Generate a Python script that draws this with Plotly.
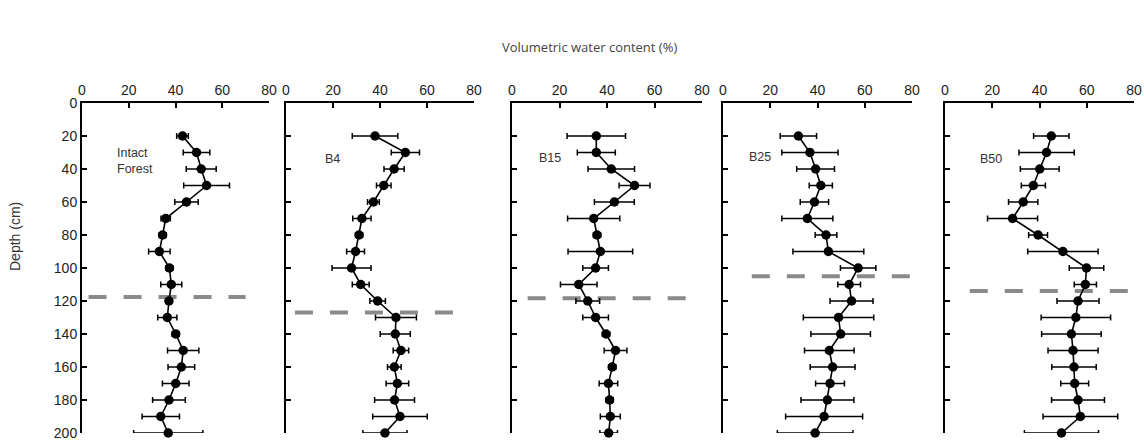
import plotly.graph_objects as go

W, H = 1144, 443

depth = [20, 30, 40, 50, 60, 70, 80, 90, 100, 110, 120, 130, 140, 150, 160, 170, 180, 190, 200]

panel_names = ["Intact<br>Forest", "B4", "B15", "B25", "B50"]

intact_mean = [43.0, 49.0, 51.0, 53.3, 44.7, 35.8, 34.5, 33.1, 37.4, 38.2, 37.2, 36.5, 40.1, 43.3, 42.5, 40.1, 37.2, 33.7, 36.9]
intact_err = [2.5, 5.7, 6.4, 9.8, 5.0, 2.0, 1.5, 4.6, 1.5, 4.5, 1.0, 4.1, 1.5, 6.7, 5.7, 5.7, 7.0, 8.0, 14.8]

b4_mean = [37.9, 50.8, 46.0, 41.6, 37.2, 32.3, 31.1, 29.6, 27.9, 31.8, 39.0, 46.8, 46.5, 48.9, 46.1, 47.4, 46.2, 48.5, 42.1]
b4_err = [9.7, 6.0, 4.3, 3.1, 2.5, 3.9, 1.5, 3.8, 8.3, 3.6, 3.3, 8.7, 6.4, 3.3, 2.9, 4.8, 8.5, 11.6, 9.4]

b15_mean = [35.5, 35.5, 41.8, 51.6, 43.1, 34.4, 35.8, 37.2, 35.2, 28.1, 31.9, 35.2, 39.6, 43.6, 42.2, 40.6, 41.1, 41.4, 40.7]
b15_err = [12.3, 8.0, 9.8, 6.5, 8.4, 11.0, 1.5, 13.6, 5.4, 7.7, 5.0, 5.4, 1.5, 4.8, 1.5, 3.9, 1.5, 4.2, 3.7]

b25_mean = [31.9, 36.8, 39.2, 41.4, 38.7, 35.7, 43.6, 44.6, 57.2, 53.4, 54.4, 48.9, 49.8, 45.0, 46.4, 45.3, 44.2, 42.8, 39.0]
b25_err = [7.7, 11.9, 8.0, 4.9, 6.0, 10.8, 4.6, 15.0, 7.5, 4.8, 9.1, 14.9, 12.6, 10.5, 9.5, 6.1, 11.2, 16.3, 16.0]

b50_mean = [45.0, 43.0, 40.1, 37.4, 33.1, 28.6, 39.4, 49.9, 59.9, 59.4, 56.3, 55.4, 53.5, 54.2, 54.6, 54.9, 56.3, 57.3, 49.3]
b50_err = [7.5, 11.7, 8.2, 5.1, 6.2, 10.6, 4.0, 14.9, 7.3, 4.7, 8.9, 14.7, 12.6, 10.6, 9.4, 5.9, 11.2, 15.8, 15.7]

means = [intact_mean, b4_mean, b15_mean, b25_mean, b50_mean]
errs = [intact_err, b4_err, b15_err, b25_err, b50_err]

# boundary (dashed line) depth and its horizontal extent per panel
boundary_depth = [117.5, 127, 118.4, 105, 114]
boundary_x0 = [2.8, 3.8, 6.6, 12.2, 10.5]
boundary_x1 = [70, 72.6, 74.8, 80, 78.5]

# label positions (data coords)
label_x = [14.2, 15.9, 10.5, 10.1, 14.0]
label_y = [35, 34, 33.5, 33, 33.7]

x_ticks = [0, 20, 40, 60, 80]
y_ticks = [0, 20, 40, 60, 80, 100, 120, 140, 160, 180, 200]

# pixel layout of panels
px_left = [82, 286, 512, 723, 945]
px_right = [269, 474, 702, 912, 1134]
py_top, py_bot = 103, 433

fig = go.Figure()
layout = dict(
    width=W, height=H,
    margin=dict(l=0, r=0, t=0, b=0, pad=0, autoexpand=False),
    paper_bgcolor="white", plot_bgcolor="white",
    showlegend=False,
    font=dict(family="Liberation Sans, Arial, sans-serif", size=13, color="#222"),
)

for i in range(5):
    xa = "x" if i == 0 else f"x{i+1}"
    ya = "y" if i == 0 else f"y{i+1}"
    # dashed boundary line
    fig.add_trace(go.Scatter(
        x=[boundary_x0[i], boundary_x1[i]], y=[boundary_depth[i], boundary_depth[i]],
        mode="lines", line=dict(color="#8a8a8a", width=4, dash="18px,17px"),
        xaxis=xa, yaxis=ya, hoverinfo="skip", cliponaxis=False))
    fig.add_trace(go.Scatter(
        x=means[i], y=depth, mode="lines+markers",
        line=dict(color="black", width=1.6),
        marker=dict(color="black", size=9.5),
        error_x=dict(type="data", array=errs[i], color="black", thickness=1.5, width=3),
        xaxis=xa, yaxis=ya, cliponaxis=False))
    fig.add_annotation(x=label_x[i], y=label_y[i], xref=xa, yref=ya, text=panel_names[i],
                       showarrow=False, xanchor="left", yanchor="middle", align="left",
                       font=dict(size=12.5, color="#333"))
    kx = "xaxis" if i == 0 else f"xaxis{i+1}"
    ky = "yaxis" if i == 0 else f"yaxis{i+1}"
    layout[kx] = dict(
        domain=[px_left[i] / W, px_right[i] / W], anchor=ya, side="top",
        range=[0, 80], tickvals=x_ticks, ticks="inside", ticklen=5, tickwidth=2,
        tickcolor="black", showline=True, linecolor="black", linewidth=2,
        showgrid=False, zeroline=False, automargin=False,
        tickfont=dict(size=14, color="#222"))
    layout[ky] = dict(
        domain=[1 - py_bot / H, 1 - py_top / H], anchor=xa,
        range=[200, 0], tickvals=y_ticks, ticks="inside", ticklen=5, tickwidth=2,
        tickcolor="black", showline=True, linecolor="black", linewidth=2,
        showgrid=False, zeroline=False, showticklabels=(i == 0), automargin=False,
        tickfont=dict(size=14, color="#222"))

fig.update_layout(**layout)

fig.add_annotation(x=589 / W, y=1 - 47 / H, xref="paper", yref="paper",
                   xanchor="center", yanchor="middle",
                   text="Volumetric water content (%)", showarrow=False,
                   font=dict(family="Open Sans, sans-serif", size=13, color="#444"))
fig.add_annotation(x=15 / W, y=1 - 237 / H, xref="paper", yref="paper",
                   xanchor="center", yanchor="middle",
                   text="Depth (cm)", showarrow=False, textangle=-90,
                   font=dict(family="Liberation Sans, Arial, sans-serif", size=14, color="#333"))

fig.write_html("out.html", config={"displayModeBar": False},
               post_script="document.body.style.margin='0';document.body.style.overflow='hidden';")
